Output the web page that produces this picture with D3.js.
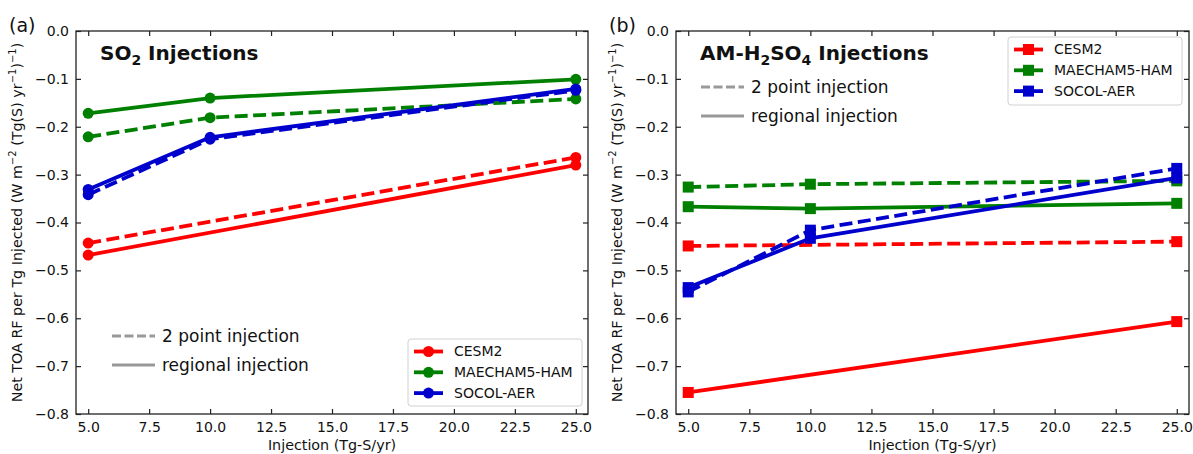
<!DOCTYPE html>
<html>
<head>
<meta charset="utf-8">
<script src="https://cdn.jsdelivr.net/npm/d3@7"></script>
<style>
  body { margin: 0; background: #fff; }
  svg { display: block; font-family: "DejaVu Sans", sans-serif; }
</style>
</head>
<body>
<svg id="chart" width="1193" height="454"></svg>
<script>
// ---------------- DATA ----------------
const injections = [5, 10, 25];
const models = ["CESM2", "MAECHAM5-HAM", "SOCOL-AER"];
const modelColors = ["#ff0000", "#008000", "#0000cd"];
const xTicks = [5, 7.5, 10, 12.5, 15, 17.5, 20, 22.5, 25];
const yTicks = [0, -0.1, -0.2, -0.3, -0.4, -0.5, -0.6, -0.7, -0.8];

// Panel (a): SO2 injections  (null = no run at that rate)
const so2_CESM2_regional   = [-0.468, null, -0.280];
const so2_CESM2_2point     = [-0.443, null, -0.264];
const so2_MAECHAM_regional = [-0.172, -0.140, -0.101];
const so2_MAECHAM_2point   = [-0.221, -0.181, -0.142];
const so2_SOCOL_regional   = [-0.331, -0.222, -0.121];
const so2_SOCOL_2point     = [-0.342, -0.226, -0.124];

// Panel (b): AM-H2SO4 injections
const h2so4_CESM2_regional   = [-0.755, null, -0.607];
const h2so4_CESM2_2point     = [-0.449, null, -0.440];
const h2so4_MAECHAM_regional = [-0.367, -0.371, -0.360];
const h2so4_MAECHAM_2point   = [-0.326, -0.320, -0.313];
const h2so4_SOCOL_regional   = [-0.536, -0.433, -0.307];
const h2so4_SOCOL_2point     = [-0.545, -0.416, -0.287];

const panels = [
  {
    letter: "(a)", title: [["SO", 0], ["2", 1], [" Injections", 0]], marker: "circle",
    left: 76, right: 588,
    series: [
      { model: 0, style: "dash", values: so2_CESM2_2point },
      { model: 0, style: "solid", values: so2_CESM2_regional },
      { model: 1, style: "dash", values: so2_MAECHAM_2point },
      { model: 1, style: "solid", values: so2_MAECHAM_regional },
      { model: 2, style: "dash", values: so2_SOCOL_2point },
      { model: 2, style: "solid", values: so2_SOCOL_regional }
    ],
    styleLegend: { x: 112, y: 336 },
    modelLegend: { x: 408, y: 339, w: 174, h: 67 }
  },
  {
    letter: "(b)", title: [["AM-H", 0], ["2", 1], ["SO", 0], ["4", 1], [" Injections", 0]], marker: "square",
    left: 676, right: 1189,
    series: [
      { model: 0, style: "dash", values: h2so4_CESM2_2point },
      { model: 0, style: "solid", values: h2so4_CESM2_regional },
      { model: 1, style: "dash", values: h2so4_MAECHAM_2point },
      { model: 1, style: "solid", values: h2so4_MAECHAM_regional },
      { model: 2, style: "dash", values: h2so4_SOCOL_2point },
      { model: 2, style: "solid", values: h2so4_SOCOL_regional }
    ],
    styleLegend: { x: 701, y: 87 },
    modelLegend: { x: 1008, y: 37, w: 174, h: 68 }
  }
];

// ---------------- DRAW ----------------
const svg = d3.select("#chart");
const plotTop = 31, plotBottom = 414;
const axisColor = "#222";
const fs = 14;
const lfs = 14.3;

panels.forEach(p => {
  const g = svg.append("g");
  const x = d3.scaleLinear().domain([4.5, 25.5]).range([p.left, p.right]);
  const y = d3.scaleLinear().domain([-0.8, 0]).range([plotBottom, plotTop]);

  // axes with inward ticks
  const fmtX = d3.format(".1f");
  const fmtY = v => (v === 0 ? "0.0" : d3.format(".1f")(v).replace("-", "\u2212"));
  const axB = g.append("g").attr("transform", `translate(0,${plotBottom})`)
    .call(d3.axisBottom(x).tickValues(xTicks).tickFormat(fmtX).tickSizeInner(-5).tickSizeOuter(0).tickPadding(8));
  const axT = g.append("g").attr("transform", `translate(0,${plotTop})`)
    .call(d3.axisTop(x).tickValues(xTicks).tickFormat("").tickSizeInner(-5).tickSizeOuter(0));
  const axL = g.append("g").attr("transform", `translate(${p.left},0)`)
    .call(d3.axisLeft(y).tickValues(yTicks).tickFormat(fmtY).tickSizeInner(-5).tickSizeOuter(0).tickPadding(7));
  const axR = g.append("g").attr("transform", `translate(${p.right},0)`)
    .call(d3.axisRight(y).tickValues(yTicks).tickFormat("").tickSizeInner(-5).tickSizeOuter(0));
  [axB, axT, axL, axR].forEach(a => {
    a.select(".domain").remove();
    a.selectAll(".tick line").attr("stroke", axisColor).attr("stroke-width", 1.2);
    a.selectAll(".tick text").attr("fill", "#111").style("font-size", fs + "px")
      .style("font-family", "DejaVu Sans");
  });
  axB.selectAll(".tick text").attr("dy", "0.71em");
  g.append("rect").attr("x", p.left).attr("y", plotTop)
    .attr("width", p.right - p.left).attr("height", plotBottom - plotTop)
    .attr("fill", "none").attr("stroke", axisColor).attr("stroke-width", 1.3);

  // axis labels
  g.append("text").attr("x", (p.left + p.right) / 2).attr("y", 450)
    .attr("text-anchor", "middle").style("font-size", lfs + "px").attr("fill", "#111")
    .text("Injection (Tg-S/yr)");
  const yl = g.append("text")
    .attr("transform", `translate(${p.left - 54},${(plotTop + plotBottom) / 2}) rotate(-90)`)
    .attr("text-anchor", "middle").style("font-size", lfs + "px").attr("fill", "#111");
  const parts = [["Net TOA RF per Tg Injected (W m", 0], ["\u22122", 1], [" (Tg(S) yr", 0], ["\u22121", 1], [")", 0], ["\u22121", 1], [")", 0]];
  let prevSup = 0;
  parts.forEach(([t, sup]) => {
    const ts = yl.append("tspan").text(t);
    if (sup) ts.style("font-size", (lfs * 0.7) + "px");
    const shift = sup ? -6 : 0;
    ts.attr("dy", shift - prevSup);
    prevSup = shift;
  });

  // panel letter
  g.append("text").attr("x", p.left - 67).attr("y", 32).style("font-size", "19px").attr("fill", "#111").text(p.letter);

  // title
  const tt = g.append("text").attr("x", p.left + 24).attr("y", 60)
    .style("font-size", "20px").style("font-weight", "bold").attr("fill", "#111");
  let prev = 0;
  p.title.forEach(([t, sub]) => {
    const ts = tt.append("tspan").text(t);
    if (sub) ts.style("font-size", "14px");
    const s = sub ? 5 : 0;
    ts.attr("dy", s - prev);
    prev = s;
  });

  // data lines
  const line = d3.line().defined(d => d.v !== null).x(d => x(d.x)).y(d => y(d.v));
  p.series.forEach(s => {
    const pts = injections.map((xv, i) => ({ x: xv, v: s.values[i] })).filter(d => d.v !== null);
    const col = modelColors[s.model];
    g.append("path").datum(pts).attr("d", line).attr("fill", "none")
      .attr("stroke", col).attr("stroke-width", 3.8)
      .attr("stroke-dasharray", s.style === "dash" ? "13,5.5" : null);
    if (p.marker === "circle") {
      g.selectAll(null).data(pts).enter().append("circle")
        .attr("cx", d => x(d.x)).attr("cy", d => y(d.v)).attr("r", 5.5).attr("fill", col);
    } else {
      g.selectAll(null).data(pts).enter().append("rect")
        .attr("x", d => x(d.x) - 5.5).attr("y", d => y(d.v) - 5.5)
        .attr("width", 11).attr("height", 11).attr("fill", col);
    }
  });

  // style legend (gray)
  const sl = g.append("g").attr("transform", `translate(${p.styleLegend.x},${p.styleLegend.y})`);
  [["2 point injection", "9,3.5"], ["regional injection", null]].forEach((d, i) => {
    sl.append("line").attr("x1", 0).attr("x2", 43).attr("y1", i * 29).attr("y2", i * 29)
      .attr("stroke", "#999").attr("stroke-width", 3).attr("stroke-dasharray", d[1]);
    sl.append("text").attr("x", 50).attr("y", i * 29).attr("dy", "0.35em")
      .style("font-size", "17px").attr("fill", "#111").text(d[0]);
  });

  // model legend
  const ml = p.modelLegend;
  const lg = g.append("g").attr("transform", `translate(${ml.x},${ml.y})`);
  lg.append("rect").attr("width", ml.w).attr("height", ml.h).attr("rx", 3)
    .attr("fill", "#fff").attr("fill-opacity", 0.85).attr("stroke", "#d0d0d0").attr("stroke-width", 1);
  models.forEach((m, i) => {
    const cy = 12.5 + i * 20.8;
    lg.append("line").attr("x1", 6).attr("x2", 35).attr("y1", cy).attr("y2", cy)
      .attr("stroke", modelColors[i]).attr("stroke-width", 3.8);
    if (p.marker === "circle") {
      lg.append("circle").attr("cx", 20.5).attr("cy", cy).attr("r", 5.5).attr("fill", modelColors[i]);
    } else {
      lg.append("rect").attr("x", 15).attr("y", cy - 5.5).attr("width", 11).attr("height", 11).attr("fill", modelColors[i]);
    }
    lg.append("text").attr("x", 46).attr("y", cy).attr("dy", "0.35em")
      .style("font-size", "14px").attr("fill", "#111").text(m);
  });
});
</script>
</body>
</html>
